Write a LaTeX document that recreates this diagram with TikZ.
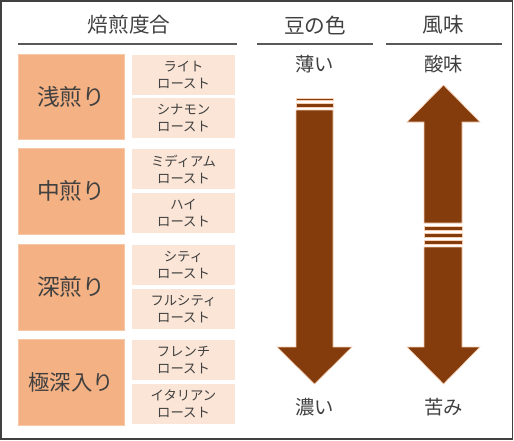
\documentclass[tikz,border=0pt]{standalone}
\usepackage{fontspec}
\setmainfont{Noto Sans CJK JP}
\definecolor{roastfill}{HTML}{F4B183}
\definecolor{namefill}{HTML}{FBE5D6}
\definecolor{beanbrown}{HTML}{843C0C}
\definecolor{inkgray}{HTML}{404040}
\definecolor{rulegray}{HTML}{595959}
\tikzset{
  roastbox/.style={fill=roastfill, draw=roastfill!70!white, line width=0.6pt,
    minimum width=79.5pt, minimum height=64pt, inner sep=0pt,
    text=inkgray, font=\fontsize{17}{19}\selectfont},
  namebox/.style={fill=namefill, draw=white, line width=0.8pt,
    minimum width=78.75pt, minimum height=31.1pt, inner sep=0pt, align=center,
    text=inkgray, font=\fontsize{10}{12.75}\selectfont},
  headtext/.style={text=inkgray, font=\fontsize{15.5}{18}\selectfont},
  endtext/.style={text=inkgray, font=\fontsize{14.5}{17}\selectfont},
  beanarrow/.style={fill=beanbrown, draw=roastfill!60!white, line width=0.5pt}
}
\begin{document}
\begin{tikzpicture}[x=0.75pt,y=-0.75pt]
                \useasboundingbox (0,0) rectangle (514,440);
                % Drawing frame
                \draw [line width=1.1pt, inkgray] (1.000000,1.000000) rectangle (512.500000,439.000000);%

                % Headers and rules
                \node [headtext] (rhead) at (129.000000,25.000000) {焙煎度合};%
                \node [headtext] (chead) at (315.000000,25.000000) {豆の色};%
                \node [headtext] (fhead) at (443.500000,25.000000) {風味};%
                \draw [line width=0.8pt, rulegray] (18.000000,44.000000) -- (237.000000,44.000000);%
                \draw [line width=0.8pt, rulegray] (257.000000,44.000000) -- (373.000000,44.000000);%
                \draw [line width=0.8pt, rulegray] (386.000000,44.000000) -- (502.000000,44.000000);%

                % Roast group 1
                \node [roastbox] (asairi) at (71.000000,96.750000) {浅煎り};%
                \node [namebox] (light) at (183.500000,74.750000) {ライト\\ロースト};%
                \node [namebox] (cinnamon) at (183.500000,118.250000) {シナモン\\ロースト};%

                % Roast group 2
                \node [roastbox] (nakairi) at (71.000000,191.250000) {中煎り};%
                \node [namebox] (medium) at (183.500000,169.250000) {ミディアム\\ロースト};%
                \node [namebox] (high) at (183.500000,213.250000) {ハイ\\ロースト};%

                % Roast group 3
                \node [roastbox] (fukairi) at (71.000000,287.250000) {深煎り};%
                \node [namebox] (city) at (183.500000,265.250000) {シティ\\ロースト};%
                \node [namebox] (fullcity) at (183.500000,309.250000) {フルシティ\\ロースト};%

                % Roast group 4
                \node [roastbox, font=\fontsize{16}{18}\selectfont] (gokufukairi) at (71.000000,382.250000) {極深入り};%
                \node [namebox] (french) at (183.500000,360.250000) {フレンチ\\ロースト};%
                \node [namebox] (italian) at (183.500000,404.250000) {イタリアン\\ロースト};%

                % Drawing colour arrow
                \draw [beanarrow] (296.000000,98.000000) rectangle (333.000000,100.500000);%
                \draw [beanarrow] (296.000000,103.000000) rectangle (333.000000,107.500000);%
                \draw [beanarrow] (296.000000,110.000000) -- (333.000000,110.000000) -- (333.000000,347.000000) -- (352.000000,347.000000) -- (314.500000,384.000000) -- (277.000000,347.000000) -- (296.000000,347.000000) -- cycle;%
                \node [endtext] (pale) at (314.500000,64.000000) {薄い};%
                \node [endtext] (dark) at (314.500000,407.000000) {濃い};%

                % Drawing flavour arrow
                \draw [beanarrow] (443.500000,85.000000) -- (480.000000,122.000000) -- (462.000000,122.000000) -- (462.000000,223.000000) -- (424.000000,223.000000) -- (424.000000,122.000000) -- (407.000000,122.000000) -- cycle;%
                \draw [beanarrow] (424.000000,226.000000) rectangle (462.000000,230.000000);%
                \draw [beanarrow] (424.000000,233.000000) rectangle (462.000000,237.000000);%
                \draw [beanarrow] (424.000000,240.000000) rectangle (462.000000,244.000000);%
                \draw [beanarrow] (424.000000,247.000000) -- (462.000000,247.000000) -- (462.000000,347.000000) -- (480.000000,347.000000) -- (443.500000,384.000000) -- (407.000000,347.000000) -- (424.000000,347.000000) -- cycle;%
                \node [endtext] (sour) at (443.500000,64.000000) {酸味};%
                \node [endtext] (bitter) at (443.500000,407.000000) {苦み};%
\end{tikzpicture}
\end{document}
